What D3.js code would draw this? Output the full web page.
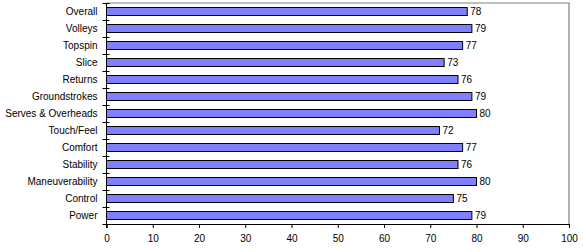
<!DOCTYPE html>
<html>
<head>
<meta charset="utf-8">
<script src="https://cdn.jsdelivr.net/npm/d3@7"></script>
<style>
  body { margin: 0; background: #fff; }
  svg text { font-family: "Liberation Sans", Arial, sans-serif; font-size: 10px; fill: #000; }
</style>
</head>
<body>
<svg id="chart" width="583" height="252"></svg>
<script>
// categories top to bottom
const categories = ['Overall', 'Volleys', 'Topspin', 'Slice', 'Returns', 'Groundstrokes',
  'Serves & Overheads', 'Touch/Feel', 'Comfort', 'Stability', 'Maneuverability', 'Control', 'Power'];
const values = [78, 79, 77, 73, 76, 79, 80, 72, 77, 76, 80, 75, 79];
const xTicks = [0, 10, 20, 30, 40, 50, 60, 70, 80, 90, 100];

const plotLeft = 106.5, plotRight = 569, plotTop = 3, plotBottom = 224;
const svg = d3.select('#chart');

const x = d3.scaleLinear().domain([0, 100]).range([plotLeft, plotRight]);
const y = d3.scaleBand().domain(categories).range([plotTop, plotBottom]).paddingInner(0.53).paddingOuter(0.265);
const band = d3.scaleBand().domain(categories).range([plotTop, plotBottom]);

// plot frame (grey top/right)
svg.append('path')
  .attr('d', `M${plotLeft},${plotTop}H${plotRight}V${plotBottom}`)
  .attr('fill', 'none').attr('stroke', '#808080').attr('stroke-width', 1.2);

// bars
svg.selectAll('rect.bar').data(categories).enter().append('rect')
  .attr('class', 'bar')
  .attr('x', x(0))
  .attr('y', d => y(d))
  .attr('width', (d, i) => x(values[i]) - x(0))
  .attr('height', y.bandwidth())
  .attr('fill', '#8080ff')
  .attr('stroke', '#000').attr('stroke-width', 1);

// value labels
svg.selectAll('text.val').data(categories).enter().append('text')
  .attr('class', 'val')
  .attr('x', (d, i) => x(values[i]) + 3)
  .attr('y', d => y(d) + y.bandwidth() / 2)
  .attr('dy', '0.35em')
  .text((d, i) => values[i]);

// category labels
svg.selectAll('text.cat').data(categories).enter().append('text')
  .attr('class', 'cat')
  .attr('x', plotLeft - 9)
  .attr('y', d => band(d) + band.bandwidth() / 2)
  .attr('dy', '0.35em')
  .attr('text-anchor', 'end')
  .text(d => d);

// y axis line + ticks at band boundaries
const g = svg.append('g').attr('stroke', '#000').attr('stroke-width', 1);
g.append('line').attr('x1', plotLeft).attr('x2', plotLeft).attr('y1', plotTop).attr('y2', plotBottom + 4);
const bounds = d3.range(categories.length + 1).map(i => plotTop + i * band.step());
g.selectAll('line.yt').data(bounds).enter().append('line')
  .attr('x1', plotLeft - 4).attr('x2', plotLeft + 3)
  .attr('y1', d => Math.round(d) + 0.5).attr('y2', d => Math.round(d) + 0.5);

// x axis
const xAxis = d3.axisBottom(x).tickValues(xTicks).tickSize(4).tickPadding(7);
const xg = svg.append('g').attr('transform', `translate(0,${plotBottom})`).call(xAxis);
xg.select('.domain').attr('stroke', '#000');
xg.selectAll('.tick line').attr('stroke', '#000');
xg.selectAll('.tick text').style('font-family', '"Liberation Sans", Arial, sans-serif').style('font-size', '10px').attr('fill', '#000');
</script>
</body>
</html>
